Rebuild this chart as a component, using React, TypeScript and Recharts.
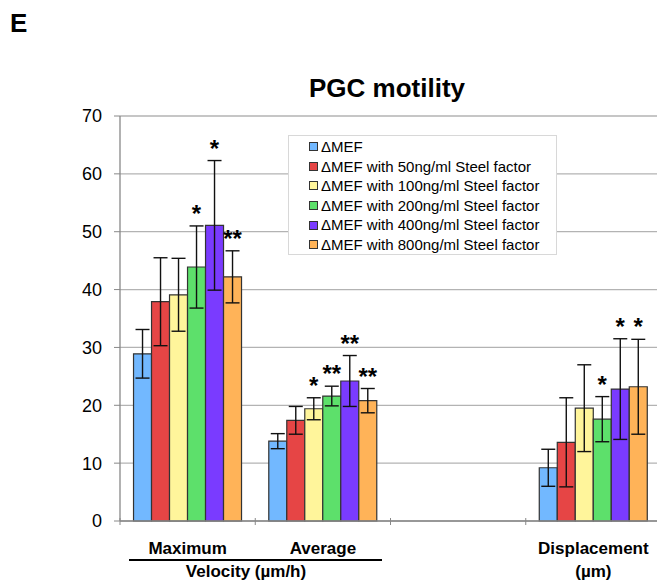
import React from 'react'
import {
  Bar,
  BarChart,
  CartesianGrid,
  ErrorBar,
  LabelList,
  XAxis,
  YAxis
} from 'recharts'

const categories = ['Maximum', 'Average', '', 'Displacement']
const subLabels = ['', '', '', '(\u00b5m)']

const seriesNames = [
  '\u0394MEF',
  '\u0394MEF with 50ng/ml Steel factor',
  '\u0394MEF with 100ng/ml Steel factor',
  '\u0394MEF with 200ng/ml Steel factor',
  '\u0394MEF with 400ng/ml Steel factor',
  '\u0394MEF with 800ng/ml Steel factor'
]
const colors = ['#72B8FF', '#E64545', '#FFF59B', '#5DE06B', '#7A3BFF', '#FFB358']

// means per category (the blank category has no bars)
const mef = [28.9, 13.8, null, 9.2]
const sf50 = [37.9, 17.4, null, 13.6]
const sf100 = [39.1, 19.4, null, 19.5]
const sf200 = [43.9, 21.6, null, 17.6]
const sf400 = [51.1, 24.2, null, 22.8]
const sf800 = [42.2, 20.8, null, 23.2]

// standard deviations
const mefErr = [4.2, 1.3, null, 3.2]
const sf50Err = [7.6, 2.4, null, 7.7]
const sf100Err = [6.3, 1.9, null, 7.5]
const sf200Err = [7.1, 1.7, null, 3.9]
const sf400Err = [11.2, 4.4, null, 8.7]
const sf800Err = [4.5, 2.1, null, 8.2]

// significance marks
const mefStars = ['', '', '', '']
const sf50Stars = ['', '', '', '']
const sf100Stars = ['', '*', '', '']
const sf200Stars = ['*', '**', '', '*']
const sf400Stars = ['*', '**', '', '*']
const sf800Stars = ['**', '**', '', '*']

const yTicks = [0, 10, 20, 30, 40, 50, 60, 70]

const values = [mef, sf50, sf100, sf200, sf400, sf800]
const errors = [mefErr, sf50Err, sf100Err, sf200Err, sf400Err, sf800Err]
const stars = [mefStars, sf50Stars, sf100Stars, sf200Stars, sf400Stars, sf800Stars]

const data = categories.map((name, i) => {
  const row: any = { name, sub: subLabels[i] }
  values.forEach((v, s) => {
    row[`v${s}`] = v[i]
    row[`e${s}`] = errors[s][i]
    row[`s${s}`] = stars[s][i]
  })
  return row
})

// label value carries the mark plus error/mean ratio so the star sits above the whisker
const starKey = (s: number) => (row: any) =>
  row[`s${s}`] && row[`v${s}`] ? `${row[`s${s}`]}|${row[`e${s}`] / row[`v${s}`]}` : ''

const FONT = '"Liberation Sans", Arial, Helvetica, sans-serif'

const CategoryTick = (props: any) => {
  const { x, y, payload, index } = props
  const row = data[index] || {}
  const half = 135.25 / 2
  return (
    <g>
      <line x1={x - half} x2={x - half} y1={y - 3} y2={y + 4} stroke='#888' />
      <text x={x} y={y + 33} textAnchor='middle' fontFamily={FONT} fontWeight='bold' fontSize={17} fill='#000'>
        {payload.value}
      </text>
      {row.sub ? (
        <text x={x} y={y + 56} textAnchor='middle' fontFamily={FONT} fontWeight='bold' fontSize={17} fill='#000'>
          {row.sub}
        </text>
      ) : null}
    </g>
  )
}

const StarLabel = (props: any) => {
  const { x, y, width, height, value } = props
  if (!value || typeof value !== 'string') return null
  const [mark, ratio] = value.split('|')
  const top = y - Number(ratio) * height
  return (
    <text x={x + width / 2} y={top - 4} textAnchor='middle' fontFamily={FONT} fontWeight='bold' fontSize={24} fill='#000'>
      {mark}
    </text>
  )
}

const LegendBox = () => (
  <div
    style={{
      position: 'absolute',
      left: 288,
      top: 135,
      width: 269,
      height: 120,
      background: '#fff',
      border: '1px solid #d8d8d8',
      padding: '1px 0 0 20px',
      fontFamily: FONT,
      fontSize: 15,
      lineHeight: '19.6px',
      color: '#000',
      boxSizing: 'border-box'
    }}>
    {seriesNames.map((n, i) => (
      <div key={n} style={{ display: 'flex', alignItems: 'center', whiteSpace: 'nowrap' }}>
        <span
          style={{
            display: 'inline-block',
            width: 7,
            height: 7,
            background: colors[i],
            border: '1px solid #333',
            marginRight: 3
          }}
        />
        {n}
      </div>
    ))}
  </div>
)

const App = () => {
  return (
    <div
      style={{
        position: 'absolute',
        left: 0,
        top: 0,
        width: 657,
        height: 584,
        overflow: 'hidden',
        background: '#fff'
      }}>
      <BarChart
        width={661}
        height={584}
        data={data}
        margin={{ top: 116, right: 0, bottom: 62, left: 0 }}
        barCategoryGap='10%'
        barGap={0}>
        <CartesianGrid vertical={false} stroke='#b3b3b3' strokeWidth={1.3} />
        <XAxis
          dataKey='name'
          height={1}
          interval={0}
          tickSize={0}
          tickMargin={0}
          tickLine={false}
          axisLine={{ stroke: '#888', strokeWidth: 1.3 }}
          tick={<CategoryTick />}
        />
        <YAxis
          width={120}
          domain={[0, 70]}
          ticks={yTicks}
          tickSize={6}
          tickMargin={12}
          tickLine={{ stroke: '#888' }}
          axisLine={{ stroke: '#888', strokeWidth: 1.3 }}
          tick={{ fontSize: 18, fill: '#000', fontFamily: FONT }}
        />
        {seriesNames.map((n, s) => (
          <Bar
            key={n}
            dataKey={`v${s}`}
            name={n}
            fill={colors[s]}
            stroke='#333'
            strokeWidth={1.2}
            isAnimationActive={false}>
            <ErrorBar dataKey={`e${s}`} width={7} stroke='#111' strokeWidth={1.4} />
            <LabelList dataKey={starKey(s)} content={<StarLabel />} />
          </Bar>
        ))}
      </BarChart>
      <LegendBox />
      <svg
        width={657}
        height={584}
        style={{ position: 'absolute', left: 0, top: 0, pointerEvents: 'none' }}>
        <text x={10} y={32} fontFamily={FONT} fontWeight='bold' fontSize={26} fill='#000'>
          E
        </text>
        <text x={387} y={97} textAnchor='middle' fontFamily={FONT} fontWeight='bold' fontSize={26} fill='#000'>
          PGC motility
        </text>
        <line x1={129} x2={382} y1={560} y2={560} stroke='#000' strokeWidth={2} />
        <text x={246} y={577} textAnchor='middle' fontFamily={FONT} fontWeight='bold' fontSize={17} fill='#000'>
          Velocity ({'\u00b5'}m/h)
        </text>
      </svg>
    </div>
  )
}

export default App
